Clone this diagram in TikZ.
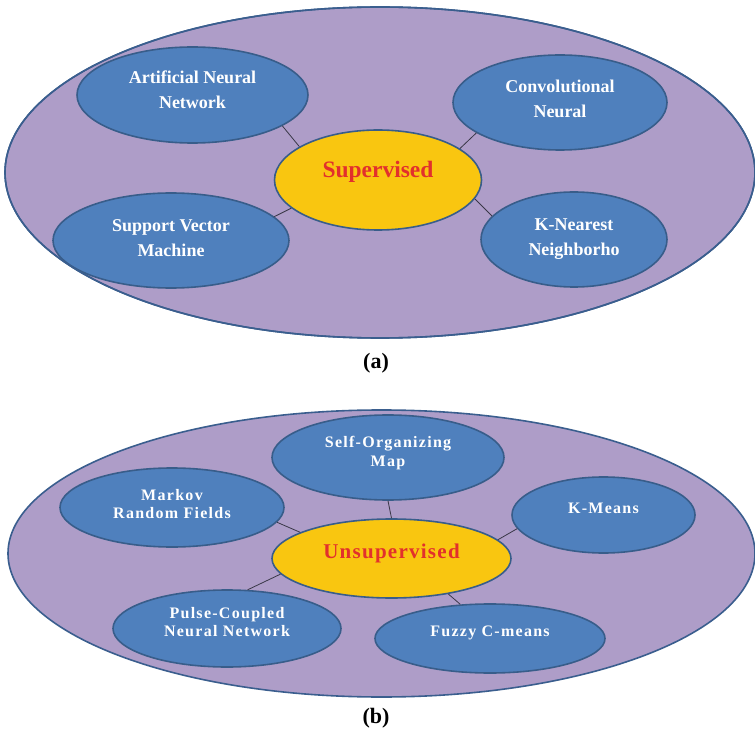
\documentclass[tikz,border=0pt]{standalone}
\usepackage{fontspec}
\setmainfont{Liberation Serif}
\usetikzlibrary{shapes.geometric}

\definecolor{lilac}{HTML}{AE9DC8}
\definecolor{rimblue}{HTML}{3A5E8E}
\definecolor{nodeblue}{HTML}{4F80BD}
\definecolor{nodeedge}{HTML}{385D8A}
\definecolor{gold}{HTML}{F9C610}
\definecolor{labelred}{HTML}{E2302C}
\definecolor{wire}{HTML}{3A3848}

% centred block of lines, shifted up without changing its box
\newcommand{\liftlines}[2]{\raisebox{#1}[\height][\depth]{\begin{tabular}{@{}c@{}}#2\end{tabular}}}

\tikzset{
  group/.style={ellipse, draw=rimblue, line width=1.6pt, fill=lilac, inner sep=0pt},
  rim/.style={draw=rimblue, line width=1.6pt},
  method/.style={ellipse, draw=nodeedge, line width=1.6pt, fill=nodeblue, inner sep=0pt,
    text=white, font=\bfseries\fontsize{18}{25}\selectfont},
  smallmethod/.style={method, font=\bfseries\addfontfeature{LetterSpace=8}\fontsize{16}{18.5}\selectfont},
  hub/.style={ellipse, draw=nodeedge, line width=1.6pt, fill=gold, inner sep=0pt,
    text=labelred, font=\bfseries\fontsize{23.5}{26}\selectfont},
  wirelink/.style={draw=wire, line width=0.8pt},
  caption/.style={font=\bfseries\fontsize{22}{24}\selectfont}
}

\begin{document}
\begin{tikzpicture}[x=1pt, y=-1pt]
\useasboundingbox (0,0) rectangle (755,735);

% ---- (a) supervised learning ----
\node[group, minimum width=750pt, minimum height=331pt] (supgroup) at (380,172.5) {};
\node[hub, minimum width=207pt, minimum height=100pt] (sup) at (378,180) {\liftlines{7.5pt}{Supervised}};
\node[method, minimum width=231pt, minimum height=96pt] (ann) at (192.5,95) {\liftlines{4pt}{Artificial Neural\\Network}};
\node[method, minimum width=214pt, minimum height=95pt] (cnn) at (560,102.5) {\liftlines{2.5pt}{Convolutional\\Neural}};
\node[method, minimum width=236pt, minimum height=95pt] (svm) at (171,240.5) {\liftlines{1pt}{Support Vector\\Machine}};
\node[method, minimum width=186pt, minimum height=95pt] (knn) at (574,239.5) {\liftlines{1.5pt}{K-Nearest\\Neighborho}};
% the outer rim runs across the overlapping ellipses
\draw[rim] (supgroup.center) ellipse [x radius=375, y radius=165.5];

\draw[wirelink] (ann.-19.5) -- (sup.157);
\draw[wirelink] (cnn.200) -- (sup.21);
\draw[wirelink] (svm.13) -- (sup.198);
\draw[wirelink] (knn.164) -- (sup.-11);

\node[caption] (capa) at (376,363) {(a)};

% ---- (b) unsupervised learning ----
\node[group, minimum width=747pt, minimum height=287pt] (unsgroup) at (381.5,553.5) {};
\node[hub, minimum width=239pt, minimum height=79pt, font=\bfseries\addfontfeature{LetterSpace=6}\fontsize{21}{24}\selectfont] (uns) at (391.5,558.5) {\liftlines{5pt}{Unsupervised}};
\node[smallmethod, minimum width=232pt, minimum height=85pt] (som) at (388,457.5) {\liftlines{4pt}{Self-Organizing\\Map}};
\node[smallmethod, minimum width=224pt, minimum height=79pt] (mrf) at (172,507.5) {\liftlines{1.5pt}{Markov\\Random Fields}};
\node[smallmethod, minimum width=183pt, minimum height=76pt] (km) at (603.5,515) {\liftlines{5pt}{K-Means}};
\node[smallmethod, minimum width=228pt, minimum height=77pt] (pcnn) at (227,628.5) {\liftlines{4.5pt}{Pulse-Coupled\\Neural Network}};
\node[smallmethod, minimum width=230pt, minimum height=69pt] (fcm) at (490,638.5) {\liftlines{6pt}{Fuzzy C-means}};

\draw[wirelink] (som.-90) -- (uns.90);
\draw[wirelink] (mrf.-8.4) -- (uns.164);
\draw[wirelink] (km.189.5) -- (uns.10);
\draw[wirelink] (pcnn.62) -- (uns.188);
\draw[wirelink] (fcm.131) -- (uns.-32);

\node[caption] (capb) at (376,718) {(b)};
\end{tikzpicture}
\end{document}
